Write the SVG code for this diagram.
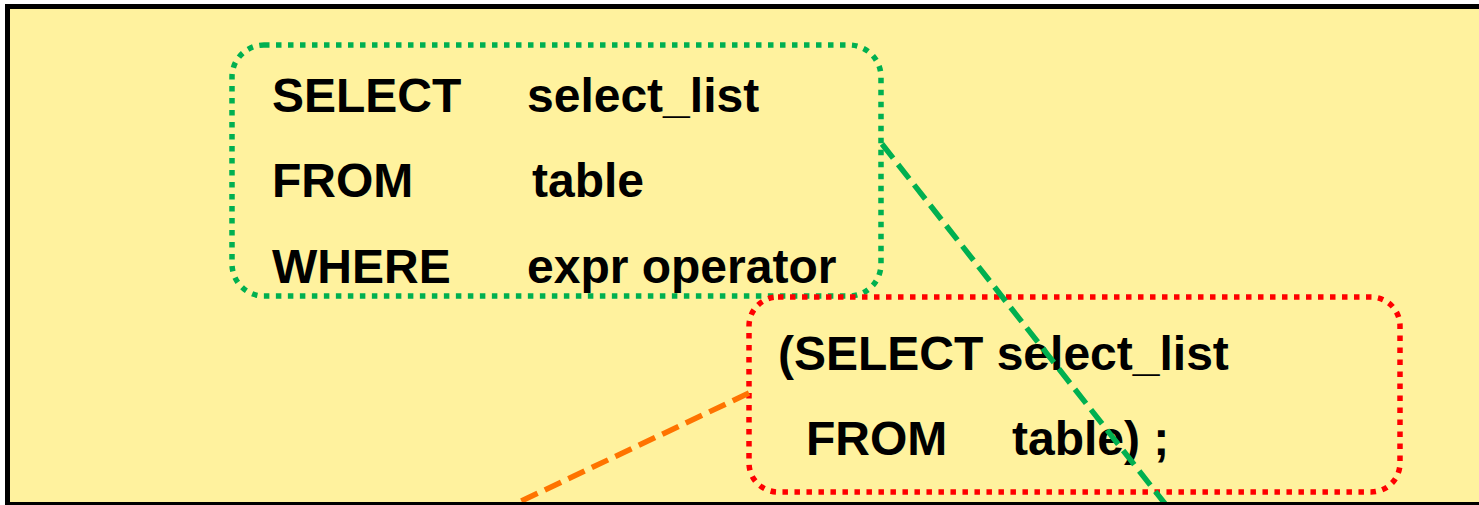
<svg xmlns="http://www.w3.org/2000/svg" width="1479" height="505" viewBox="0 0 1479 505">
<style>
.t{font-family:"Liberation Sans",Arial,sans-serif;font-weight:bold;font-size:48px;fill:#000}
.box{fill:none;stroke-width:5.5;stroke-dasharray:5.5 6.5}
.conn{fill:none;stroke-width:5.5;stroke-dasharray:18 8}
</style>
<rect id="frame-fill" x="7.5" y="6.5" width="1480" height="498" fill="#FFF29E"/>
<g id="outer-query">
<rect class="box" x="232" y="45" width="649" height="251" rx="32" ry="32" stroke="#00B050"/>
<text class="t" x="272" y="112">SELECT</text>
<text class="t" x="527" y="112">select_list</text>
<text class="t" x="272" y="197">FROM</text>
<text class="t" x="532" y="197">table</text>
<text class="t" x="272" y="283">WHERE</text>
<text class="t" x="527" y="283">expr operator</text>
</g>
<g id="subquery">
<rect class="box" x="749" y="297" width="651" height="195" rx="29" ry="29" stroke="#FF0000"/>
<text class="t" x="778" y="370">(SELECT select_list</text>
<text class="t" x="806" y="455">FROM</text>
<text class="t" x="1012" y="455">table) ;</text>
</g>
<g id="connectors">
<line class="conn" x1="882" y1="144" x2="1166" y2="505" stroke="#00B050"/>
<line class="conn" x1="749" y1="393" x2="513" y2="505" stroke="#FF7300"/>
</g>
<rect id="frame-border" x="7.5" y="6.5" width="1480" height="498" fill="none" stroke="#000" stroke-width="5"/>
</svg>
